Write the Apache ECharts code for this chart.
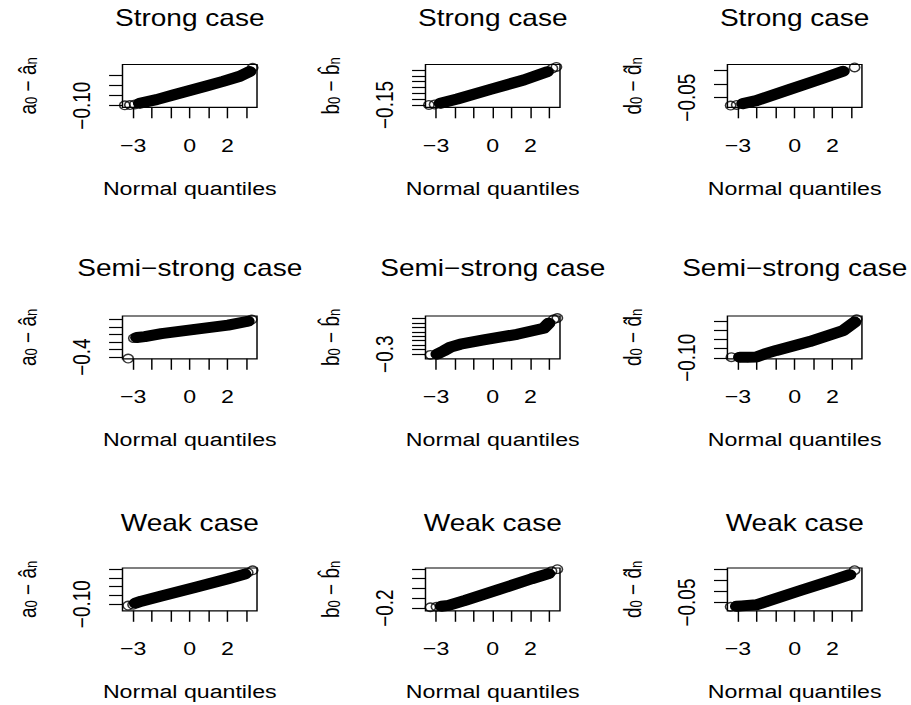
<!DOCTYPE html>
<html>
<head>
<meta charset="utf-8">
<title>Normal QQ plots of estimation errors</title>
<script src="https://cdn.jsdelivr.net/npm/echarts@6.0.0/dist/echarts.min.js"></script>
<style>
html, body { margin: 0; padding: 0; background: #ffffff; overflow: hidden; }
/* the reference figure is horizontally stretched, so draw narrow and stretch */
#main { width: 747px; height: 705px; transform: scaleX(1.2195); transform-origin: 0 0; }
</style>
</head>
<body>
<div id="main"></div>
<script>
// shared axis ticks / texts
var xTicks = [-3, -2, -1, 0, 1, 2, 3];
var xLabels = [-3, 0, 2];
var caseTitles = ['Strong case', 'Semi\u2212strong case', 'Weak case'];
var yNames = [
    'a{s|0} \u2212 \u00e2{s|n}',
    'b{s|0} \u2212 b\u0302{s|n}',
    'd{s|0} \u2212 d\u0302{s|n}'
];

// strong case (normal quantile, error)
var qStrongA = [-3.44, -3.17, -2.91, -2.65, -1.76, -0.88, 0.00, 0.88, 1.76, 2.65, 3.17, 3.33];
var yStrongA = [-0.098, -0.097, -0.094, -0.088, -0.070, -0.047, -0.025, -0.003, 0.020, 0.045, 0.068, 0.087];
var qStrongB = [-3.38, -3.08, -2.77, -1.88, -0.12, 1.64, 2.88, 3.16, 3.37];
var yStrongB = [-0.150, -0.146, -0.135, -0.099, -0.016, 0.064, 0.135, 0.163, 0.176];
var qStrongD = [-3.39, -3.07, -2.74, -2.03, -0.26, 1.50, 2.56, 3.17];
var yStrongD = [-0.079, -0.077, -0.072, -0.061, -0.019, 0.022, 0.048, 0.062];

// semi-strong case
var qSemiA = [-3.26, -2.96, -2.80, -2.38, -1.50, 0.26, 2.03, 3.08, 3.28];
var ySemiA = [-0.420, -0.148, -0.139, -0.128, -0.088, -0.031, 0.026, 0.077, 0.100];
var qSemiB = [-3.30, -2.94, -2.59, -2.24, -1.71, -0.48, 1.29, 2.70, 2.96, 3.23, 3.42];
var ySemiB = [-0.308, -0.300, -0.263, -0.222, -0.189, -0.141, -0.078, -0.011, 0.044, 0.089, 0.103];
var qSemiD = [-3.35, -2.91, -2.49, -2.03, -1.59, -0.97, 0.79, 2.56, 3.17, 3.28];
var ySemiD = [-0.097, -0.097, -0.097, -0.096, -0.079, -0.060, -0.012, 0.048, 0.094, 0.109];

// weak case
var qWeakA = [-3.26, -3.00, -2.87, -2.56, -1.50, 0.26, 2.03, 2.91, 3.07, 3.33];
var yWeakA = [-0.108, -0.104, -0.094, -0.083, -0.054, -0.005, 0.045, 0.071, 0.079, 0.093];
var qWeakB = [-3.30, -2.98, -2.71, -2.34, -1.46, 0.30, 2.06, 2.95, 3.11, 3.42];
var yWeakB = [-0.192, -0.187, -0.182, -0.173, -0.122, -0.012, 0.100, 0.152, 0.177, 0.198];
var qWeakD = [-3.39, -3.07, -2.80, -2.03, -1.50, 0.26, 2.03, 2.91, 3.17];
var yWeakD = [-0.069, -0.067, -0.065, -0.060, -0.046, 0.003, 0.051, 0.075, 0.095];

// y ticks and the single tick label R kept
var yTicksStrongA = [-0.10, -0.05, 0, 0.05];
var yTicksStrongB = [-0.15, -0.10, -0.05, 0, 0.05, 0.10, 0.15];
var yTicksStrongD = [-0.05, 0, 0.05];
var yTicksSemiA = [-0.4, -0.3, -0.2, -0.1, 0, 0.1];
var yTicksSemiB = [-0.30, -0.25, -0.20, -0.15, -0.10, -0.05, 0, 0.05, 0.10];
var yTicksSemiD = [-0.10, -0.05, 0, 0.05, 0.10];
var yTicksWeakA = [-0.10, -0.05, 0, 0.05, 0.10];
var yTicksWeakB = [-0.2, -0.1, 0, 0.1, 0.2];
var yTicksWeakD = [-0.05, 0, 0.05, 0.10];
var yLabelTexts = [
    '\u22120.10', '\u22120.15', '\u22120.05',
    '\u22120.4', '\u22120.3', '\u22120.10',
    '\u22120.10', '\u22120.2', '\u22120.05'
];

var FONT = '"Liberation Sans", Arial, Helvetica, sans-serif';

// row-major panels; band = index range drawn as the dense solid part
var panels = [
    { q: qStrongA, y: yStrongA, ticks: yTicksStrongA, min: -0.108, max: 0.103, band: [3, 10] },
    { q: qStrongB, y: yStrongB, ticks: yTicksStrongB, min: -0.170, max: 0.197, band: [2, 6] },
    { q: qStrongD, y: yStrongD, ticks: yTicksStrongD, min: -0.0856, max: 0.073, band: [2, 6] },
    { q: qSemiA, y: ySemiA, ticks: yTicksSemiA, min: -0.423, max: 0.147, band: [2, 7] },
    { q: qSemiB, y: ySemiB, ticks: yTicksSemiB, min: -0.352, max: 0.126, band: [1, 8] },
    { q: qSemiD, y: ySemiD, ticks: yTicksSemiD, min: -0.1055, max: 0.127, band: [1, 8] },
    { q: qWeakA, y: yWeakA, ticks: yTicksWeakA, min: -0.138, max: 0.106, band: [2, 7] },
    { q: qWeakB, y: yWeakB, ticks: yTicksWeakB, min: -0.228, max: 0.210, band: [2, 7] },
    { q: qWeakD, y: yWeakD, ticks: yTicksWeakD, min: -0.087, max: 0.105, band: [1, 7] }
];

var colLeft = [100.45, 348.9, 596.5];
var rowTop = [64.5, 316, 568];
var titleTop = [6, 256, 511];
var boxW = 110.3, boxH = 42.8;

function minusFmt(v) {
    return v < 0 ? '\u2212' + (-v) : String(v);
}

var grids = [], xAxes = [], yAxes = [], titles = [], series = [];

panels.forEach(function (p, i) {
    var row = Math.floor(i / 3), col = i % 3;
    var pts = p.q.map(function (q, k) { return [q, p.y[k]]; });

    grids.push({
        left: colLeft[col], top: rowTop[row], width: boxW, height: boxH,
        show: true, borderColor: '#000', borderWidth: 1.2,
        backgroundColor: 'transparent', containLabel: false, outerBoundsMode: 'none'
    });
    xAxes.push({
        gridIndex: i, type: 'value', min: -3.56, max: 3.56,
        name: 'Normal quantiles', nameLocation: 'middle', nameGap: 71,
        nameTextStyle: { fontFamily: FONT, fontSize: 19, fontWeight: 400, color: '#000' },
        axisLine: { show: false, onZero: false },
        axisTick: { show: true, length: 11, customValues: xTicks, lineStyle: { color: '#000', width: 1.2 } },
        axisLabel: {
            customValues: xLabels, margin: 28, formatter: minusFmt,
            fontFamily: FONT, fontSize: 19, fontWeight: 400, color: '#000'
        },
        splitLine: { show: false }
    });
    yAxes.push({
        gridIndex: i, type: 'value', min: p.min, max: p.max,
        name: yNames[col], nameLocation: 'middle', nameRotate: 90, nameGap: 68,
        nameTextStyle: {
            fontFamily: FONT, fontSize: 19, fontWeight: 400, color: '#000',
            rich: { s: { fontFamily: FONT, fontSize: 13, color: '#000', verticalAlign: 'bottom', lineHeight: 6 } }
        },
        axisLine: { show: false, onZero: false },
        axisTick: { show: true, length: 11, customValues: p.ticks, lineStyle: { color: '#000', width: 1.2 } },
        axisLabel: {
            customValues: [p.ticks[0]], rotate: 90, margin: 24,
            formatter: function () { return yLabelTexts[i]; },
            fontFamily: FONT, fontSize: 19, fontWeight: 400, color: '#000'
        },
        splitLine: { show: false }
    });
    titles.push({
        text: caseTitles[row], left: colLeft[col] + boxW / 2, top: titleTop[row],
        textAlign: 'center', padding: 0,
        textStyle: { fontFamily: FONT, fontSize: 23, fontWeight: 400, color: '#000' }
    });
    // dense middle of the QQ points: overlapping circles look like a solid band
    series.push({
        type: 'line', xAxisIndex: i, yAxisIndex: i, silent: true, animation: false,
        showSymbol: false, symbol: 'none', z: 2,
        data: pts.slice(p.band[0], p.band[1] + 1),
        lineStyle: { color: '#000', width: 11, cap: 'round', join: 'round' }
    });
    series.push({
        type: 'scatter', xAxisIndex: i, yAxisIndex: i, silent: true, animation: false,
        symbol: 'circle', symbolSize: 8.5, z: 3,
        data: pts,
        itemStyle: { color: 'rgba(0,0,0,0)', borderColor: '#000', borderWidth: 1.3 }
    });
});

var chart = echarts.init(document.getElementById('main'), null, { renderer: 'svg' });
chart.setOption({
    backgroundColor: '#fff',
    animation: false,
    title: titles,
    grid: grids,
    xAxis: xAxes,
    yAxis: yAxes,
    series: series
});
</script>
</body>
</html>
